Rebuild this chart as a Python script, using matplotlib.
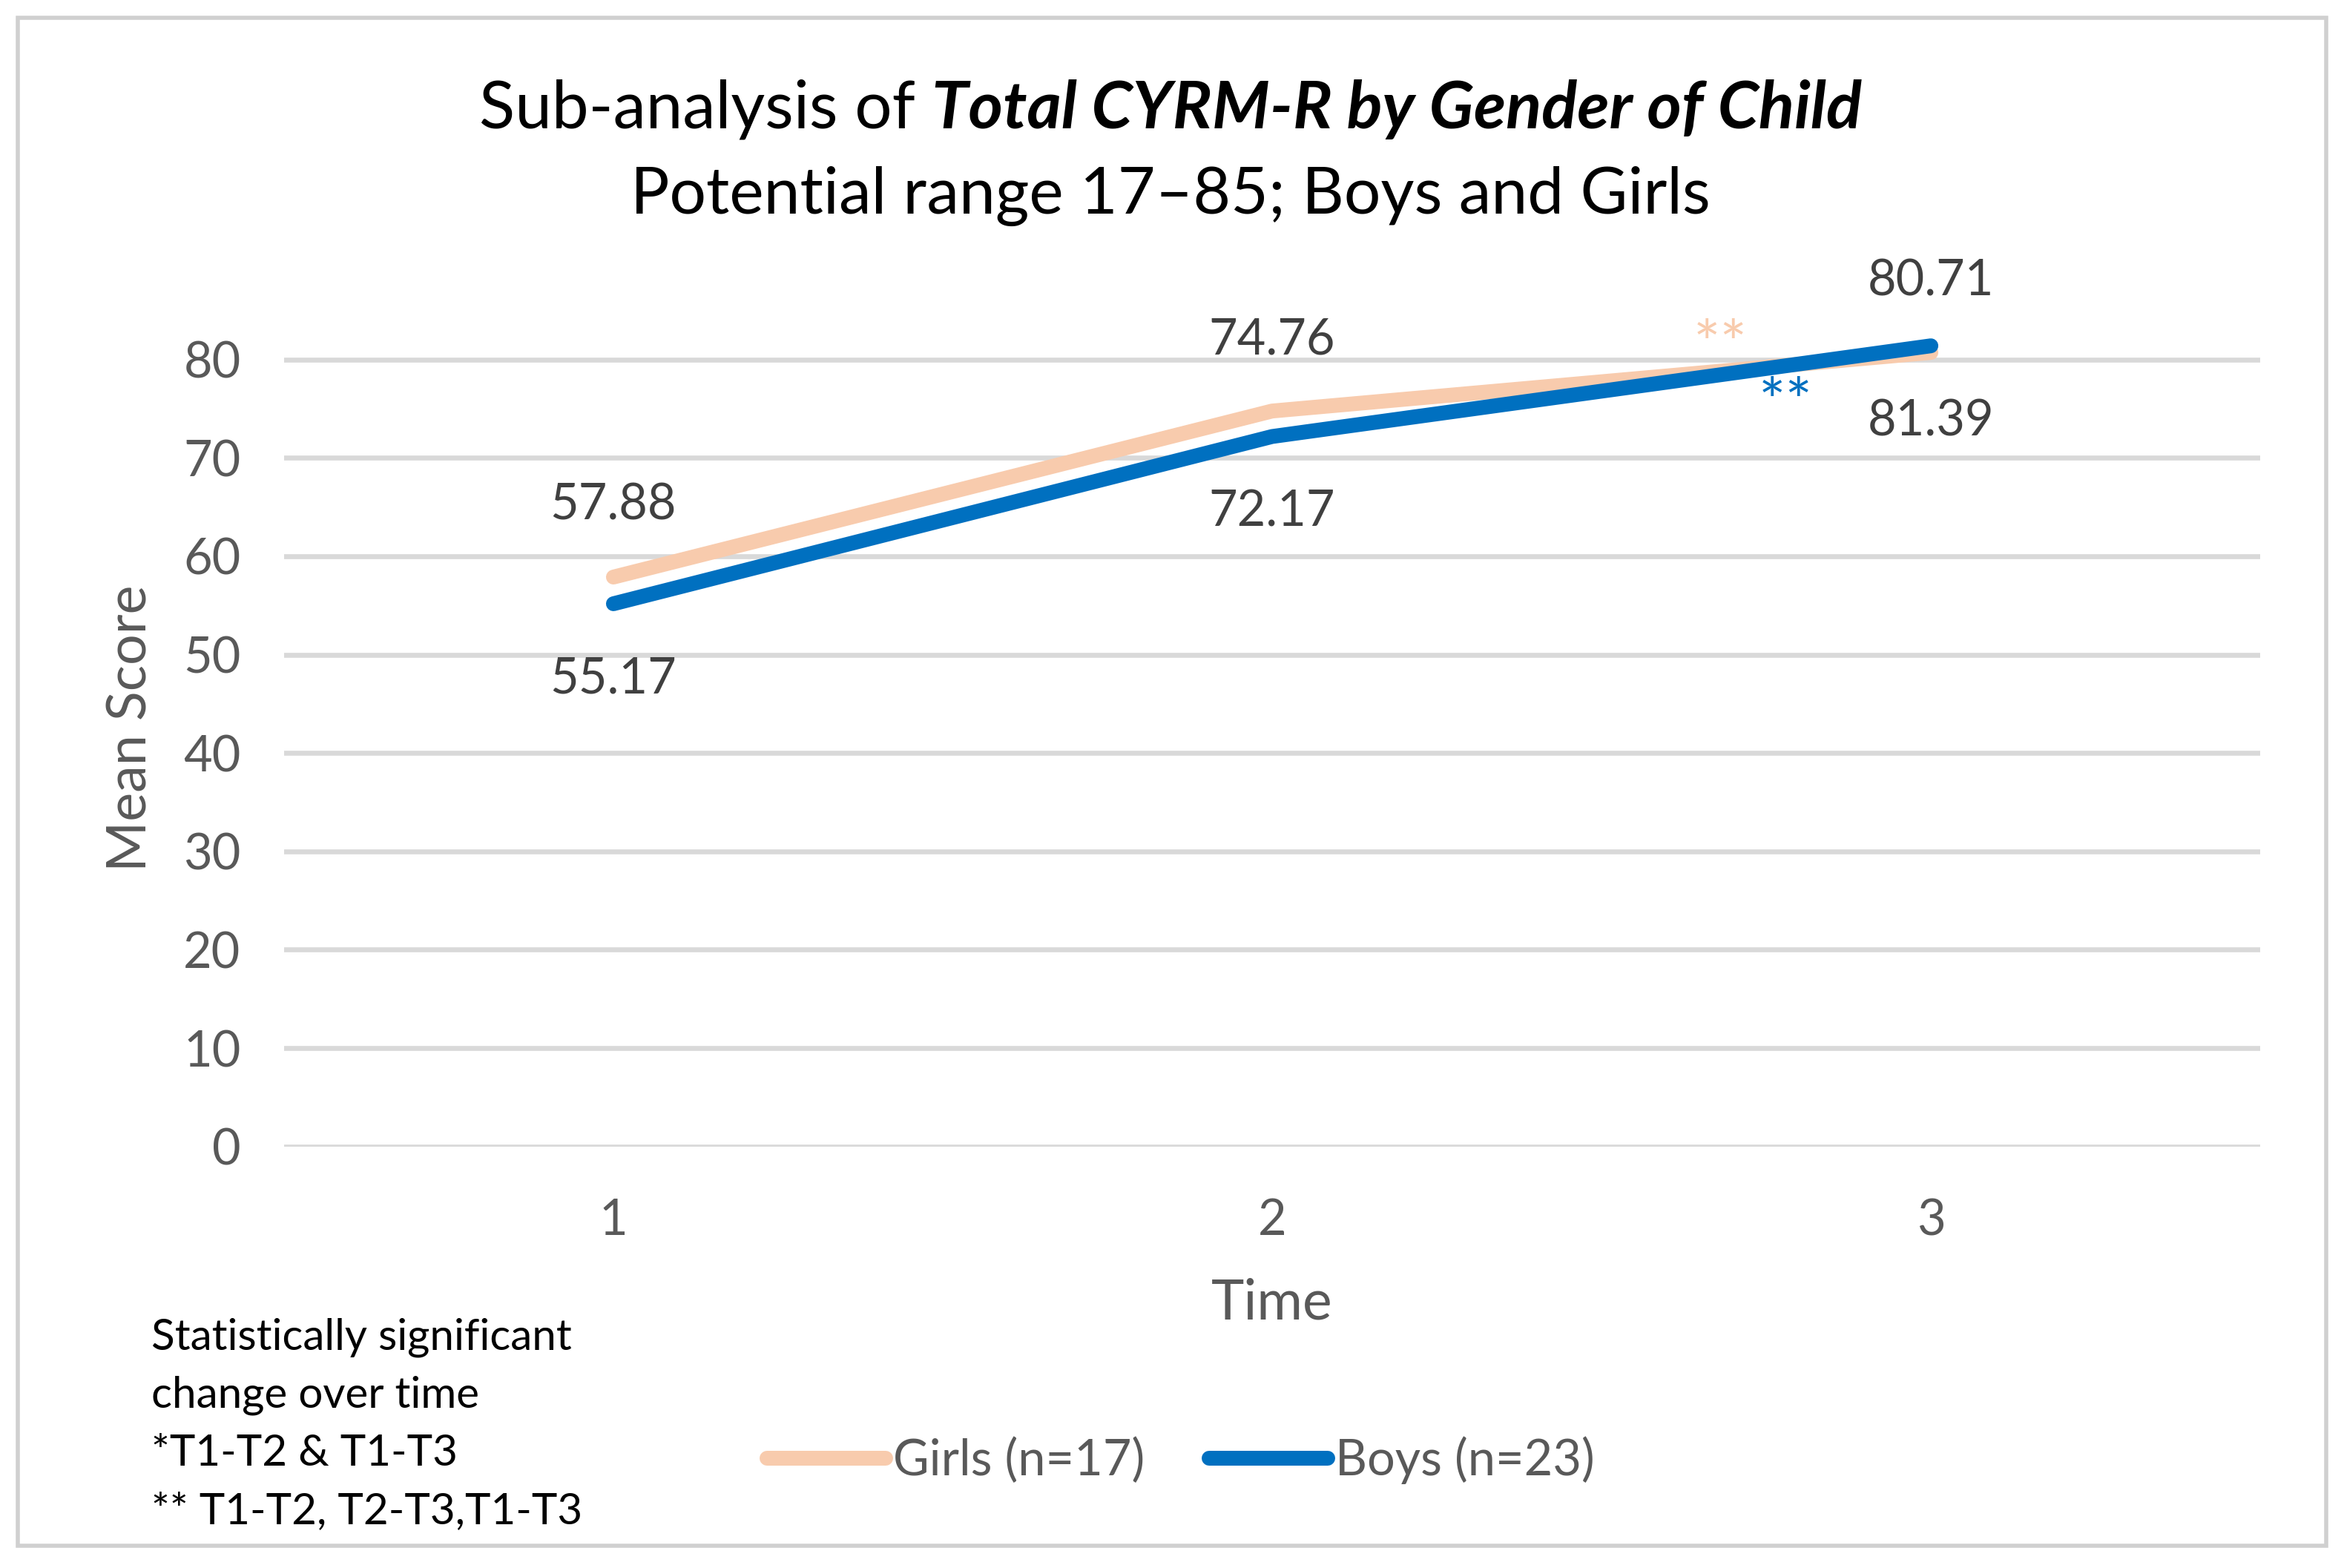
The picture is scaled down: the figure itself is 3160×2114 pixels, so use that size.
import matplotlib
matplotlib.use('Agg')
import matplotlib.pyplot as plt
from matplotlib.patches import Rectangle

plt.rcParams['font.family'] = ['Lato', 'DejaVu Sans']

times = [1, 2, 3]
girls = [57.88, 74.76, 80.71]
boys = [55.17, 72.17, 81.39]
yticks = [0, 10, 20, 30, 40, 50, 60, 70, 80]
girls_label = 'Girls (n=17)'
boys_label = 'Boys (n=23)'
note_lines = ['Statistically significant', 'change over time',
              '*T1-T2 & T1-T3', '** T1-T2, T2-T3,T1-T3']

W, H = 1568, 1049  # reference display size, used for placing things
def fx(x): return x / W
def fy(y): return 1 - y / H

peach = '#F8CBAD'
blue = '#0070C0'
grey_txt = '#595959'
lab_txt = '#404040'

fig = plt.figure(figsize=(15.8, 10.57), dpi=200)
fig.patches.append(Rectangle((fx(12), fy(1034)), fx(1556) - fx(12), fy(12) - fy(1034),
                             transform=fig.transFigure, fill=False, edgecolor='#D0D0D0', lw=2))

ax = fig.add_axes([fx(190), fy(767), fx(1512) - fx(190), fy(201) - fy(767)])
ax.set_xlim(0.5, 3.5)
ax.set_ylim(0, 86)
ax.set_yticks(yticks)
ax.set_xticks(times)
ax.yaxis.grid(True, color='#D9D9D9', lw=2.4)
ax.set_axisbelow(True)
for s in ax.spines.values():
    s.set_visible(False)
ax.tick_params(length=0, labelsize=24, labelcolor=grey_txt)
ax.tick_params(axis='y', pad=21)
ax.tick_params(axis='x', pad=25)

ax.plot(times, girls, color=peach, lw=7.2, solid_capstyle='round', label=girls_label)
ax.plot(times, boys, color=blue, lw=7.2, solid_capstyle='round', label=boys_label)

for x, g, b in zip(times, girls, boys):
    ax.annotate(f'{g:.2f}', (x, g), xytext=(0, 34.6), textcoords='offset points',
                ha='center', va='center', fontsize=24, color=lab_txt, annotation_clip=False)
    ax.annotate(f'{b:.2f}', (x, b), xytext=(0, -36.7), textcoords='offset points',
                ha='center', va='center', fontsize=24, color=lab_txt, annotation_clip=False)

ax.text(2.68, 79.4, '**', color=peach, fontsize=31, ha='center', va='baseline', clip_on=False)
ax.text(2.78, 73.5, '**', color=blue, fontsize=31, ha='center', va='baseline', clip_on=False)

fig.text(fx(88), fy(487), 'Mean Score', rotation=90, ha='center', va='center',
         fontsize=26.5, color=grey_txt)
fig.text(fx(851), fy(872), 'Time', ha='center', va='center', fontsize=27, color=grey_txt)

# title: plain part + bold italic part, centred together
t1 = fig.text(0, fy(73), 'Sub-analysis of ', ha='left', va='center', fontsize=32)
t2 = fig.text(0, fy(73), 'Total CYRM-R by Gender of Child', ha='left', va='center',
              fontsize=32, fontweight='bold', fontstyle='italic')
fig.canvas.draw()
r = fig.canvas.get_renderer()
w1 = t1.get_window_extent(r).width / fig.bbox.width
w2 = t2.get_window_extent(r).width / fig.bbox.width
start = fx(783) - (w1 + w2) / 2
t1.set_x(start)
t2.set_x(start + w1)
fig.text(fx(783), fy(131), 'Potential range 17\u201385; Boys and Girls', ha='center', va='center',
         fontsize=31.5)

for i, line in enumerate(note_lines):
    fig.text(fx(101), fy(895 + 38.7 * i), line, ha='left', va='center', fontsize=21, color='black')

ax.legend(loc='center', bbox_to_anchor=(fx(790), fy(977)), bbox_transform=fig.transFigure,
          ncol=2, frameon=False, fontsize=24, handlelength=2.4, handletextpad=0.15,
          columnspacing=1.3, labelcolor=grey_txt)

fig.savefig('out.png', dpi=200)
